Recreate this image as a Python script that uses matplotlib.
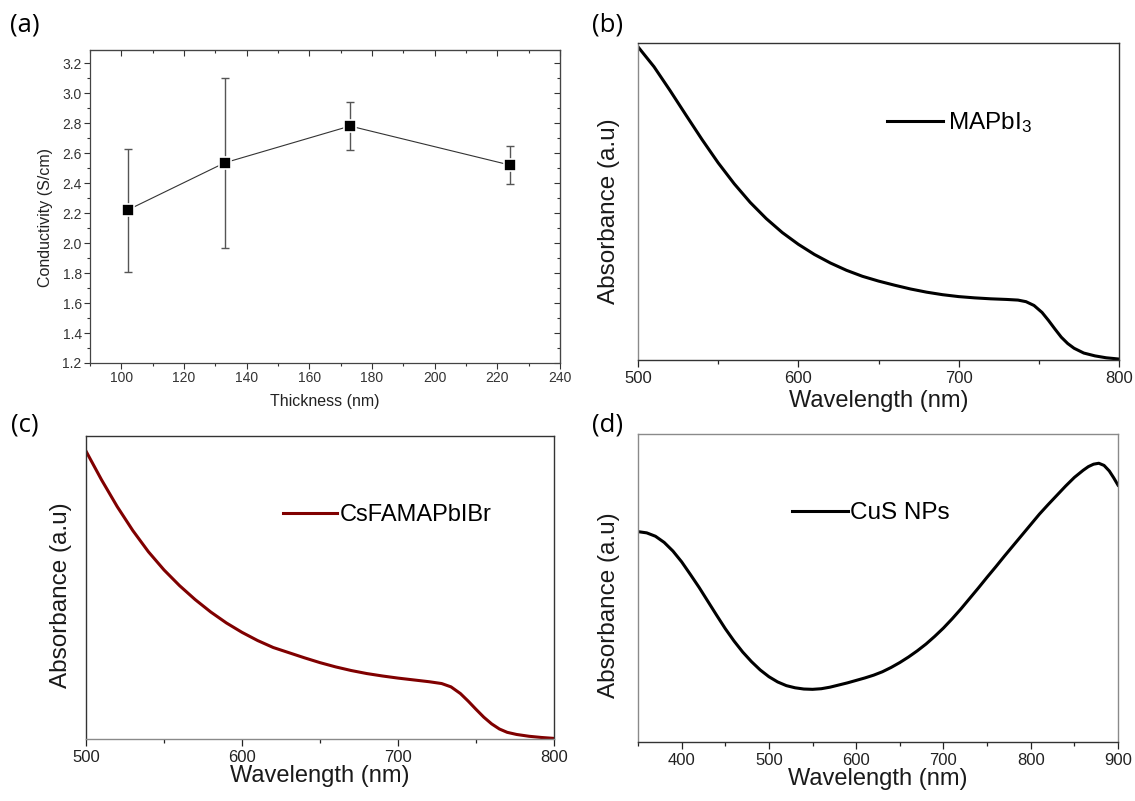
import matplotlib
matplotlib.use('Agg')
import matplotlib.pyplot as plt
from matplotlib.ticker import MultipleLocator, FormatStrFormatter

plt.rcParams['font.family'] = ['Liberation Sans', 'DejaVu Sans']
plt.rcParams['mathtext.default'] = 'regular'

# ---------------- data ----------------
thickness = [102, 133, 173, 224]
conductivity = [2.22, 2.535, 2.78, 2.52]
conductivity_err = [0.41, 0.565, 0.16, 0.128]

b_wavelength = [500, 510, 520, 530, 540, 550, 560, 570, 580, 590, 600, 610, 620, 630,
                640, 650, 660, 670, 680, 690, 700, 710, 720, 730, 737, 742, 747, 752,
                756, 760, 764, 768, 772, 778, 785, 792, 800]
b_absorbance = [0.988, 0.925, 0.850, 0.772, 0.695, 0.622, 0.556, 0.497, 0.446, 0.402,
                0.365, 0.333, 0.306, 0.283, 0.264, 0.249, 0.236, 0.224, 0.214, 0.206,
                0.200, 0.196, 0.193, 0.191, 0.189, 0.184, 0.172, 0.150, 0.125, 0.098,
                0.072, 0.052, 0.037, 0.022, 0.013, 0.007, 0.003]

c_wavelength = [500, 510, 520, 530, 540, 550, 560, 570, 580, 590, 600, 610, 620, 630,
                640, 650, 660, 670, 680, 690, 700, 710, 720, 728, 734, 740, 745, 750,
                755, 760, 765, 770, 776, 784, 792, 800]
c_absorbance = [0.950, 0.855, 0.767, 0.688, 0.618, 0.558, 0.506, 0.460, 0.419, 0.383,
                0.352, 0.325, 0.302, 0.285, 0.268, 0.252, 0.238, 0.226, 0.216, 0.208,
                0.201, 0.195, 0.189, 0.183, 0.172, 0.150, 0.125, 0.098, 0.072, 0.050,
                0.033, 0.022, 0.015, 0.009, 0.005, 0.002]

d_wavelength = [350, 360, 370, 380, 390, 400, 410, 420, 430, 440, 450, 460, 470, 480,
                490, 500, 510, 520, 530, 540, 550, 560, 570, 580, 590, 600, 610, 620,
                630, 640, 650, 660, 670, 680, 690, 700, 710, 720, 730, 740, 750, 760,
                770, 780, 790, 800, 810, 820, 830, 840, 850, 860, 866, 872, 878, 884,
                890, 895, 900]
d_absorbance = [0.683, 0.679, 0.668, 0.648, 0.620, 0.585, 0.544, 0.502, 0.457, 0.412,
                0.368, 0.328, 0.292, 0.261, 0.234, 0.212, 0.195, 0.183, 0.176, 0.172,
                0.171, 0.173, 0.178, 0.185, 0.192, 0.200, 0.208, 0.217, 0.228, 0.242,
                0.258, 0.276, 0.296, 0.318, 0.343, 0.370, 0.400, 0.432, 0.466, 0.500,
                0.535, 0.569, 0.604, 0.638, 0.672, 0.706, 0.740, 0.771, 0.801, 0.831,
                0.859, 0.882, 0.894, 0.902, 0.905, 0.898, 0.880, 0.858, 0.834]

panel_letters = ['(a)', '(b)', '(c)', '(d)']

# ---------------- layout ----------------
W, H = 1135, 801
fig = plt.figure(figsize=(W / 100, H / 100), dpi=100)


def rect(x0, y0, x1, y1):
    return [x0 / W, 1 - y1 / H, (x1 - x0) / W, (y1 - y0) / H]


DARK = '#333333'
GREY = '#8a8a8a'

# ---------------- (a) ----------------
axA = fig.add_axes(rect(90, 50, 560, 363))
axA.plot(thickness, conductivity, color='#333333', lw=0.8, zorder=2)
axA.errorbar(thickness, conductivity, yerr=conductivity_err, fmt='none',
             ecolor='#555555', elinewidth=1.0, capsize=3, capthick=1.0, zorder=1)
axA.plot(thickness, conductivity, ls='none', marker='s', ms=8.5,
         mfc='black', mec='white', mew=1.2, zorder=3)
axA.set_xlim(90, 240)
axA.set_ylim(1.2, 3.287)
axA.xaxis.set_major_locator(MultipleLocator(20))
axA.xaxis.set_minor_locator(MultipleLocator(10))
axA.yaxis.set_major_locator(MultipleLocator(0.2))
axA.yaxis.set_minor_locator(MultipleLocator(0.1))
axA.yaxis.set_major_formatter(FormatStrFormatter('%.1f'))
axA.tick_params(which='both', direction='out', labelsize=10, colors=DARK)
axA.tick_params(which='major', length=4, width=0.8, pad=2)
axA.tick_params(which='minor', length=2.5, width=0.8)
for s in axA.spines.values():
    s.set_color('#444444')
    s.set_linewidth(0.9)
secx = axA.secondary_xaxis('top')
secx.xaxis.set_major_locator(MultipleLocator(20))
secx.xaxis.set_minor_locator(MultipleLocator(10))
secx.tick_params(which='both', direction='in', labeltop=False, colors=DARK)
secx.tick_params(which='major', length=4, width=0.8)
secx.tick_params(which='minor', length=2.5, width=0.8)
secx.spines['top'].set_color('#444444')
secy = axA.secondary_yaxis('right')
secy.yaxis.set_major_locator(MultipleLocator(0.2))
secy.yaxis.set_minor_locator(MultipleLocator(0.1))
secy.tick_params(which='both', direction='in', labelright=False, colors=DARK)
secy.tick_params(which='major', length=4, width=0.8)
secy.tick_params(which='minor', length=2.5, width=0.8)
secy.spines['right'].set_color('#444444')
axA.set_xlabel('Thickness (nm)', fontsize=11.5, color='#222222')
axA.set_ylabel('Conductivity (S/cm)', fontsize=11.5, color='#222222')
axA.xaxis.set_label_coords(0.5, -0.100)
axA.yaxis.set_label_coords(-0.079, 0.466)


def spectrum_axes(r, xlim, major, minor, spine_cols, xl_y, yl_x, yl_y):
    ax = fig.add_axes(r)
    ax.set_xlim(*xlim)
    ax.set_ylim(0, 1)
    ax.xaxis.set_major_locator(MultipleLocator(major))
    ax.xaxis.set_minor_locator(MultipleLocator(minor))
    ax.set_yticks([])
    ax.tick_params(axis='x', which='both', direction='out', labelsize=12,
                   colors='#222222', pad=3)
    ax.tick_params(axis='x', which='major', length=5, width=0.9)
    ax.tick_params(axis='x', which='minor', length=3, width=0.9)
    for side, col in spine_cols.items():
        ax.spines[side].set_color(col)
        ax.spines[side].set_linewidth(1.0)
    ax.set_xlabel('Wavelength (nm)', fontsize=17, color='#1a1a1a')
    ax.set_ylabel('Absorbance (a.u)', fontsize=17.5, color='#1a1a1a')
    ax.xaxis.set_label_coords(0.5, xl_y)
    ax.yaxis.set_label_coords(yl_x, yl_y)
    return ax


# ---------------- (b) ----------------
axB = spectrum_axes(rect(638, 43, 1119, 360), (500, 800), 100, 50,
                    {'left': GREY, 'bottom': DARK, 'top': DARK, 'right': DARK},
                    -0.095, -0.037, 0.47)
axB.plot(b_wavelength, b_absorbance, color='black', lw=2.2, label='MAPbI$_3$',
         solid_joinstyle='round')
axB.legend(loc='center left', bbox_to_anchor=((887 - 638) / 481, (360 - 123) / 317),
           frameon=False, fontsize=17.5, handlelength=2.3, handletextpad=0.2,
           borderpad=0, borderaxespad=0)

# ---------------- (c) ----------------
axC = spectrum_axes(rect(86, 436, 554, 739), (500, 800), 100, 50,
                    {'left': DARK, 'bottom': GREY, 'top': DARK, 'right': DARK},
                    -0.085, -0.030, 0.475)
axC.plot(c_wavelength, c_absorbance, color='#800000', lw=2.2, label='CsFAMAPbIBr',
         solid_joinstyle='round')
axC.legend(loc='center left', bbox_to_anchor=((283 - 86) / 468, (739 - 515) / 303),
           frameon=False, fontsize=17, handlelength=2.3, handletextpad=0.1,
           borderpad=0, borderaxespad=0)

# ---------------- (d) ----------------
axD = spectrum_axes(rect(638, 434, 1118, 742), (350, 900), 100, 50,
                    {'left': GREY, 'bottom': DARK, 'top': GREY, 'right': GREY},
                    -0.085, -0.0375, 0.445)
axD.plot(d_wavelength, d_absorbance, color='black', lw=2.2, label='CuS NPs',
         solid_joinstyle='round')
axD.legend(loc='center left', bbox_to_anchor=((792 - 638) / 480, (742 - 513) / 308),
           frameon=False, fontsize=17.5, handlelength=2.3, handletextpad=0.1,
           borderpad=0, borderaxespad=0)

# ---------------- panel letters ----------------
letter_pos = [(10, 25), (592, 25), (11, 425), (592, 425)]
for txt, (px, py) in zip(panel_letters, letter_pos):
    fig.text(px / W, 1 - py / H, txt, fontsize=18.5, family=['Open Sans', 'DejaVu Sans'],
             ha='left', va='center', color='black')

fig.savefig('out.png', dpi=100)
